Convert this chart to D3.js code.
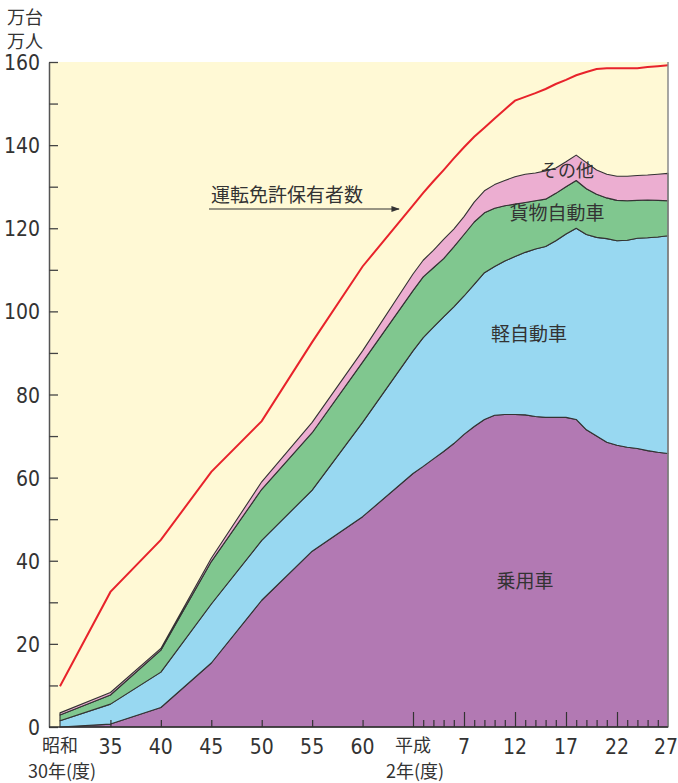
<!DOCTYPE html>
<html><head><meta charset="utf-8">
<script src="https://cdn.jsdelivr.net/npm/d3@7/dist/d3.min.js"></script>
<style>
body{margin:0;background:#fff;}
svg{display:block;}
.num{font-family:"Liberation Sans Narrow","DejaVu Sans Condensed","Noto Sans CJK JP",sans-serif;font-size:21px;fill:#333;}
.jp{font-family:"Liberation Sans Narrow","Noto Sans CJK JP",sans-serif;font-size:19px;fill:#333;}
</style></head>
<body>
<script>
// ---- data (万台 / 万人) ----
const years = [1955,1960,1965,1970,1975,1980,1985,1990,1991,1992,1993,1994,1995,1996,1997,1998,1999,2000,2001,2002,2003,2004,2005,2006,2007,2008,2009,2010,2011,2012,2013,2014,2015];
const passenger = [0,0.7,4.7,15.4,30.5,42.3,50.6,61.0,62.7,64.5,66.3,68.2,70.4,72.3,74.0,75.0,75.2,75.2,75.1,74.7,74.5,74.5,74.5,74.0,71.5,70.0,68.5,67.8,67.3,67.0,66.5,66.1,65.8];
const kei = [1.5,4.8,8.5,14.2,14.4,14.7,22.7,29.5,31.0,31.7,32.4,32.9,33.3,34.2,35.3,35.8,36.9,38.0,39.1,40.3,41.1,42.5,44.1,46.0,47.0,47.8,49.0,49.2,49.8,50.6,51.2,51.8,52.4];
const truck = [1.4,2.2,5.3,10.2,12.3,13.8,14.5,14.5,14.6,14.3,14.0,14.4,14.8,15.0,14.4,14.0,13.3,12.6,12.0,11.6,11.4,11.4,11.4,11.5,11.0,10.4,9.8,9.7,9.5,9.1,9.1,8.8,8.4];
const other = [0.5,0.6,0.4,0.8,1.8,2.5,2.7,4.0,4.0,4.2,4.6,4.3,4.3,4.8,5.3,5.7,6.1,6.6,6.8,6.7,6.8,6.1,6.0,6.1,6.3,5.8,5.7,5.8,5.9,6.0,6.0,6.3,6.6];
const licenses = [9.8,32.5,45.0,61.4,73.6,92.6,110.8,125.5,128.5,131.3,134.0,136.8,139.5,142.0,144.2,146.4,148.6,150.7,151.6,152.5,153.5,154.7,155.7,156.8,157.6,158.3,158.5,158.5,158.5,158.5,158.8,159.0,159.2];

const seriesKeys = ["passenger","kei","truck","other"];
const seriesNames = ["乗用車","軽自動車","貨物自動車","その他"];
const seriesColors = ["#B279B3","#98D8F1","#80C78F","#ECAED1"];
const licenseName = "運転免許保有者数";

const xTickYears = [1955,1960,1965,1970,1975,1980,1985,1990,1995,2000,2005,2010,2015];
const xTickLabels = ["昭和","35","40","45","50","55","60","平成","7","12","17","22","27"];
const xSubLabelYears = [1955,1990];
const xSubLabels = ["30年(度)","2年(度)"];
const yTicks = [0,10,20,30,40,50,60,70,80,90,100,110,120,130,140,150,160];
const unitLabels = ["万台","万人"];

// ---- layout ----
const W = 678, H = 783;
const L = 49, R = 668, T = 62, B = 727;

const svg = d3.select("body").append("svg").attr("width",W).attr("height",H);

const x = d3.scaleLinear().domain([1955,1990,2015]).range([60,413,668]);
const y = d3.scaleLinear().domain([0,160]).range([B,T]);

// background
svg.append("rect").attr("x",L).attr("y",T).attr("width",R-L).attr("height",B-T).attr("fill","#FFF9D5");

// stacked areas
const table = years.map((yr,i)=>({year:yr,passenger:passenger[i],kei:kei[i],truck:truck[i],other:other[i]}));
const stack = d3.stack().keys(seriesKeys)(table);
const area = d3.area().x(d=>x(d.data.year)).y0(d=>y(d[0])).y1(d=>y(d[1]));
svg.append("g").selectAll("path").data(stack).join("path")
  .attr("d",area)
  .attr("fill",(d,i)=>seriesColors[i])
  .attr("stroke","#333").attr("stroke-width",1.1).attr("stroke-linejoin","round");

// license line
svg.append("path").datum(years.map((yr,i)=>[yr,licenses[i]]))
  .attr("d",d3.line().x(d=>x(d[0])).y(d=>y(d[1])))
  .attr("fill","none").attr("stroke","#E8232B").attr("stroke-width",2);

// right border
svg.append("line").attr("x1",R).attr("x2",R).attr("y1",T).attr("y2",B).attr("stroke","#8a8a8a").attr("stroke-width",1.5);

// y axis
const yAxis = svg.append("g").attr("transform",`translate(${L},0)`)
  .call(d3.axisLeft(y).tickValues(yTicks).tickSizeInner(-9).tickSizeOuter(0).tickPadding(9)
    .tickFormat(d=> d%20===0 ? d : ""));
yAxis.select(".domain").attr("stroke","#555").attr("stroke-width",1.5);
yAxis.selectAll(".tick line").attr("stroke","#444").attr("stroke-width",1.3);
yAxis.selectAll(".tick text").attr("class","num").attr("dy","0.36em");

// x axis: minor (annual) and major ticks
const minorYears = d3.range(1991,2015).filter(v=>v%5!==0);
const xMinor = svg.append("g").attr("transform",`translate(0,${B})`)
  .call(d3.axisBottom(x).tickValues(minorYears).tickSizeInner(-7).tickSizeOuter(0).tickFormat(""));
xMinor.select(".domain").remove();
xMinor.selectAll(".tick line").attr("stroke","#333").attr("stroke-width",1.2);

const xMajor = svg.append("g").attr("transform",`translate(0,${B})`)
  .call(d3.axisBottom(x).tickValues(xTickYears.filter(v=>v>1955 && v<2015)).tickSizeOuter(0).tickFormat(""));
xMajor.selectAll(".tick line").attr("y2",d=> d>=1990 ? -15 : -7).attr("stroke","#333").attr("stroke-width",1.2);
xMajor.select(".domain").attr("d",`M${L},0H${R}`).attr("stroke","#333").attr("stroke-width",1.5);

// x labels
const xl = svg.append("g");
xTickYears.forEach((yr,i)=>{
  const isJp = /[^\x00-\x7F]/.test(xTickLabels[i]);
  const px = i === xTickYears.length-1 ? x(yr)-2 : x(yr);
  xl.append("text").attr("class",isJp?"jp":"num")
    .attr("x",px).attr("y",isJp?752:754).attr("text-anchor","middle")
    .style("font-size",isJp?"18px":null).text(xTickLabels[i]);
});
xSubLabelYears.forEach((yr,i)=>{
  xl.append("text").attr("class","jp").attr("x",x(yr)+2).attr("y",778).attr("text-anchor","middle")
    .style("font-size","18px").text(xSubLabels[i]);
});

// unit labels
svg.append("text").attr("class","jp").attr("x",7).attr("y",24).style("font-size","18px").text(unitLabels[0]);
svg.append("text").attr("class","jp").attr("x",7).attr("y",48).style("font-size","18px").text(unitLabels[1]);

// series labels
const lab = svg.append("g");
lab.append("text").attr("class","jp").attr("x",525).attr("y",588).attr("text-anchor","middle").text(seriesNames[0]);
lab.append("text").attr("class","jp").attr("x",529).attr("y",341).attr("text-anchor","middle").text(seriesNames[1]);
lab.append("text").attr("class","jp").attr("x",557).attr("y",220).attr("text-anchor","middle").text(seriesNames[2]);
lab.append("text").attr("class","jp").attr("x",567).attr("y",177).attr("text-anchor","middle").style("font-size","18px").text(seriesNames[3]);

// license annotation with arrow
lab.append("text").attr("class","jp").attr("x",211).attr("y",202).text(licenseName);
const defs = svg.append("defs");
defs.append("marker").attr("id","ah").attr("viewBox","0 0 10 10").attr("refX",9).attr("refY",5)
  .attr("markerWidth",7).attr("markerHeight",7).attr("orient","auto")
  .append("path").attr("d","M0,1.5L10,5L0,8.5Z").attr("fill","#333");
lab.append("line").attr("x1",209).attr("x2",399).attr("y1",209).attr("y2",209)
  .attr("stroke","#333").attr("stroke-width",1.2).attr("marker-end","url(#ah)");
</script>
</body></html>
